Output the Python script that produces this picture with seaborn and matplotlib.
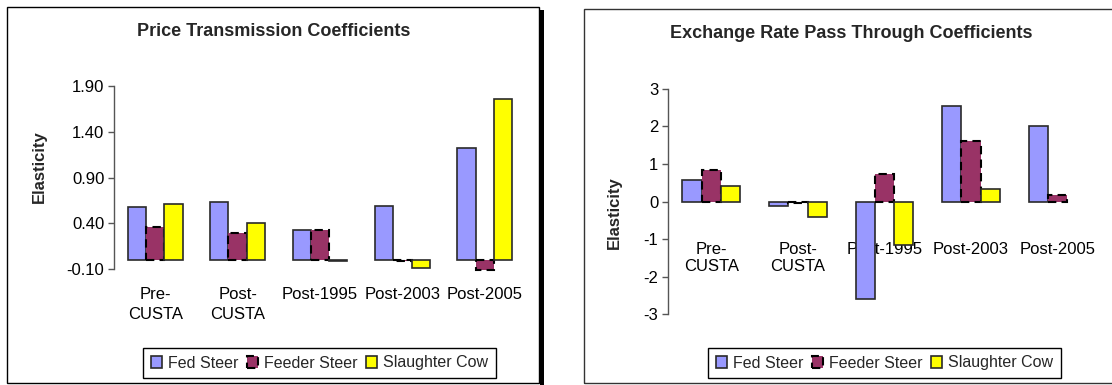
import numpy as np
import pandas as pd
import seaborn as sns
import matplotlib.pyplot as plt
from matplotlib.patches import Rectangle

# Categories and series
periods = ["Pre-\nCUSTA", "Post-\nCUSTA", "Post-1995", "Post-2003", "Post-2005"]
series = ["Fed Steer", "Feeder Steer", "Slaughter Cow"]

# Price transmission elasticities
pt_fed = [0.58, 0.63, 0.33, 0.59, 1.22]
pt_feeder = [0.36, 0.30, 0.33, -0.01, -0.11]
pt_cow = [0.61, 0.41, -0.01, -0.09, 1.76]

# Exchange rate pass-through elasticities
er_fed = [0.57, -0.12, -2.60, 2.54, 2.01]
er_feeder = [0.84, -0.05, 0.72, 1.61, 0.16]
er_cow = [0.40, -0.41, -1.16, 0.33, 0.0]

pt_ticks = [-0.10, 0.40, 0.90, 1.40, 1.90]
er_ticks = [-3, -2, -1, 0, 1, 2, 3]

colors = {"Fed Steer": "#9999FF", "Feeder Steer": "#993366", "Slaughter Cow": "#FFFF00"}

sns.set_theme(style="white")
plt.rcParams["font.family"] = ["Liberation Sans", "DejaVu Sans"]
plt.rcParams["legend.fancybox"] = False

W, H = 1112, 385
fig = plt.figure(figsize=(W / 100, H / 100), dpi=100)


def px_axes(x0, x1, ytop, ybot):
    return fig.add_axes([x0 / W, 1 - ybot / H, (x1 - x0) / W, (ybot - ytop) / H])


def long_frame(fed, feeder, cow):
    rows = []
    for s, vals in zip(series, [fed, feeder, cow]):
        for p, v in zip(periods, vals):
            rows.append({"period": p, "series": s, "value": v})
    return pd.DataFrame(rows)


def draw(ax, df):
    sns.barplot(data=df, x="period", y="value", hue="series", order=periods,
                hue_order=series, palette=colors, width=0.666, gap=0,
                errorbar=None, ax=ax, legend=False, saturation=1)
    for i, cont in enumerate(ax.containers):
        for bar in cont:
            if series[i] == "Feeder Steer":
                bar.set_edgecolor("black")
                bar.set_linestyle((0, (4, 2.5)))
                bar.set_linewidth(1.5)
            else:
                bar.set_edgecolor("#2a2a2a")
                bar.set_linewidth(1.2)
            if bar.get_height() == 0:
                bar.set_linewidth(0)
    ax.set_xlabel("")
    ax.set_xlim(-0.5, 4.5)
    for side in ["top", "right", "bottom"]:
        ax.spines[side].set_visible(False)
    ax.spines["left"].set_color("#555555")
    ax.spines["left"].set_linewidth(1.0)
    ax.tick_params(axis="y", which="both", left=True, length=4, width=1,
                   color="#555555", labelsize=12, pad=3, labelcolor="black")
    ax.tick_params(axis="x", length=0, labelsize=12, labelcolor="black")
    for lab in ax.get_xticklabels():
        lab.set_linespacing(1.35)
    ax.grid(False)


# Left panel: price transmission
ax1 = px_axes(114, 526, 86, 269.3)
draw(ax1, long_frame(pt_fed, pt_feeder, pt_cow))
ax1.set_ylim(-0.10, 1.90)
ax1.set_yticks(pt_ticks)
ax1.set_yticklabels([f"{t:.2f}" for t in pt_ticks])
ax1.tick_params(axis="x", pad=13)
for bar in ax1.patches:
    bar.set_clip_on(False)
ax1.set_ylabel("Elasticity", fontsize=12, fontweight="bold")
ax1.yaxis.set_label_coords(-0.163, 0.56)

# Right panel: exchange rate pass-through
ax2 = px_axes(668, 1101, 88.7, 314.3)
draw(ax2, long_frame(er_fed, er_feeder, er_cow))
ax2.set_ylim(-3, 3)
ax2.set_yticks(er_ticks)
ax2.set_yticklabels([str(t) for t in er_ticks])
ax2.spines["bottom"].set_position(("data", 0))
ax2.tick_params(axis="x", pad=29)
ax2.set_ylabel("Elasticity", fontsize=12, fontweight="bold")
ax2.yaxis.set_label_coords(-0.106, 0.45)

# Titles
fig.text(274 / W, 1 - 31 / H, "Price Transmission Coefficients", ha="center",
         va="center", fontsize=13, fontweight="bold")
fig.text(851 / W, 1 - 33 / H, "Exchange Rate Pass Through Coefficients",
         ha="center", va="center", fontsize=13, fontweight="bold")

# Legends
for ax, cx in [(ax1, 319.5), (ax2, 884.5)]:
    handles = [cont.patches[0] for cont in ax.containers]
    leg = ax.legend(handles, series, loc="center", ncol=3,
                    bbox_to_anchor=(cx / W, 1 - 363 / H),
                    bbox_transform=fig.transFigure, fontsize=11.5,
                    handlelength=0.7, handleheight=0.7, handletextpad=0.4,
                    columnspacing=0.5, borderpad=0.5, frameon=True)
    fr = leg.get_frame()
    fr.set_edgecolor("black")
    fr.set_linewidth(1.0)
    fr.set_facecolor("white")
    fr.set_alpha(1)

# Panel frames
fig.add_artist(Rectangle((7 / W, 1 - 383 / H), (539 - 7) / W, (383 - 7) / H,
                         transform=fig.transFigure, fill=False, ec="black", lw=1))
fig.add_artist(Rectangle((539.5 / W, 0), 4.5 / W, 1 - 10 / H,
                         transform=fig.transFigure, fc="black", ec="none"))
fig.add_artist(Rectangle((583.5 / W, 1 - 383 / H), (1130 - 583.5) / W, (383 - 9) / H,
                         transform=fig.transFigure, fill=False, ec="#333333", lw=1))

fig.savefig("out.png", dpi=100)
